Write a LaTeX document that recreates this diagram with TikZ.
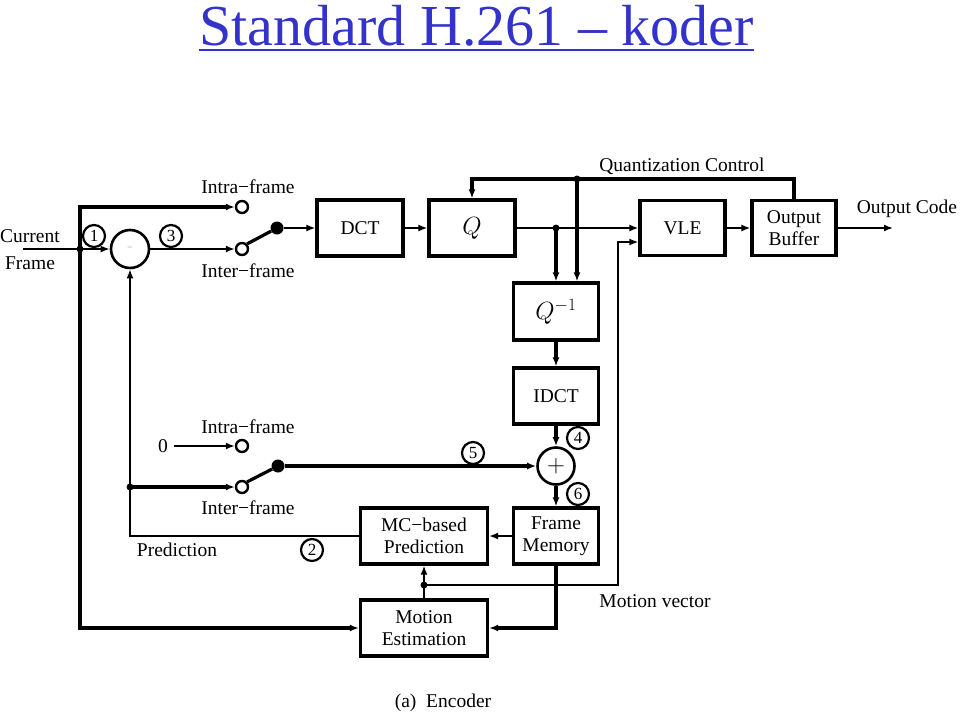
\documentclass[tikz,border=0pt]{standalone}
\usepackage{fontspec}
\setmainfont{Liberation Serif}
\usetikzlibrary{arrows.meta,calc}
\definecolor{titleblue}{RGB}{51,51,204}
\begin{document}
\begin{tikzpicture}[x=1pt,y=-1pt,
  lbl/.style={font=\fontsize{19.5}{22}\selectfont, inner sep=0pt},
  blk/.style={draw, line width=3.2pt, minimum width=#1, minimum height=56pt, inner sep=0pt, align=center, font=\fontsize{19.5}{21.5}\selectfont},
  blk/.default=86pt,
  mth/.style={font=\fontsize{24}{24}\selectfont},
  ln/.style={line width=1.6pt},
  lnb/.style={line width=3.2pt},
  arr/.style={-{Latex[length=9pt,width=7pt]}},
  contact/.style={circle, draw, line width=2.4pt, fill=white, minimum size=12pt, inner sep=0pt},
  pivot/.style={circle, fill=black, minimum size=13pt, inner sep=0pt},
  jdot/.style={circle, fill=black, minimum size=7pt, inner sep=0pt},
  num/.style={circle, draw, line width=2.2pt, minimum size=22pt, inner sep=0pt, font=\fontsize{17}{17}\selectfont},
  summ/.style={circle, draw, line width=2.6pt, minimum size=#1, inner sep=0pt}
]
\useasboundingbox (0,0) rectangle (960,718);

% title
\node[font=\fontsize{58}{60}\selectfont, text=titleblue, anchor=base, inner sep=0pt] (title) at (476.5,45) {Standard H.261 -- koder};
\draw[titleblue, line width=2.5pt] ($(title.base west)+(0,5)$) -- ($(title.base east)+(0,5)$);

% blocks
\node[blk] (dct) at (360,228) {DCT};
\node[blk, mth] (q) at (472,228) {$Q$};
\node[blk=85pt, minimum height=57pt, mth] (qinv) at (556,311.5) {$Q^{-1}$};
\node[blk=85pt] (idct) at (556,396) {IDCT};
\node[blk=85pt] (fm) at (556,536) {Frame\\Memory};
\node[blk=127pt] (mc) at (424,536) {MC−based\\Prediction};
\node[blk=127pt] (me) at (424,628) {Motion\\Estimation};
\node[blk=85pt, minimum height=55pt] (vle) at (682.5,228) {VLE};
\node[blk=84pt, minimum height=55pt] (ob) at (794,228) {Output\\Buffer};

% summing junctions
\node[summ=38pt] (sub) at (130,249) {\color{gray}\fontsize{9}{9}\selectfont −};
\node[summ=37pt] (add) at (556,466) {\fontsize{30}{30}\selectfont $+$};

% switch contacts
\node[contact] (c1) at (242,207) {};
\node[contact] (c2) at (242,249) {};
\node[pivot] (p1) at (277,228) {};
\node[contact] (c3) at (242,446) {};
\node[contact] (c4) at (242,487) {};
\node[pivot] (p2) at (278,466) {};

% coordinates
\coordinate (inL) at (23,249);
\coordinate (jin) at (80,249);
\coordinate (jp) at (130,487);
\coordinate (j1) at (556,228);
\coordinate (j2) at (577,179);
\coordinate (jm) at (424,585);
\coordinate (mvc) at (618,585);
\coordinate (oc) at (893,228);

% labels
\node[lbl] (cur) at (30,236) {Current};
\node[lbl] (frm) at (30,263) {Frame};
\node[lbl] (intra1) at (248,187) {Intra−frame};
\node[lbl] (inter1) at (248,271) {Inter−frame};
\node[lbl] (qctl) at (682,166) {Quantization Control};
\node[lbl] (ocode) at (907,209) {Output Code};
\node[lbl] (intra2) at (248,427) {Intra−frame};
\node[lbl] (inter2) at (248,508) {Inter−frame};
\node[lbl, inner sep=6pt] (zero) at (163,446) {0};
\node[lbl] (pred) at (177,550) {Prediction};
\node[lbl] (mvec) at (655,601) {Motion vector};
\node[lbl] (enc) at (443,703) {(a)\ \ Encoder};

% circled numbers
\node[num] (n1) at (94,236) {1};
\node[num] (n3) at (171,236) {3};
\node[num] (n5) at (473,453) {5};
\node[num] (n4) at (578,438) {4};
\node[num] (n6) at (578,494) {6};
\node[num] (n2) at (312,550) {2};

% upper switch
\draw[ln,arr] (inL) -- (sub);
\draw[lnb,arr] (jin) |- (c1);
\draw[lnb,arr] (jin) |- (me.west);
\draw[ln,arr] (sub) -- (c2);
\draw[lnb] (c2.north east) -- (p1);
\draw[ln,arr] (p1) -- (dct);

% forward path
\draw[ln,arr] (dct) -- (q);
\draw[ln,arr] (q) -- (vle);
\draw[lnb,arr] (j1) -- (j1 |- qinv.north);
\draw[lnb,arr] (ob.north) |- (j2) -| (q.north);
\draw[lnb,arr] (j2) -- (j2 |- qinv.north);
\draw[lnb,arr] (qinv) -- (idct);
\draw[lnb,arr] (idct) -- (add);
\draw[lnb,arr] (add) -- (fm);
\draw[ln,arr] (fm) -- (mc);
\draw[lnb,arr] (fm.south) |- (me.east);
\draw[ln,arr] (me) -- (mc);
\draw[ln,arr] (jm) -- (mvc) |- ($(vle.west)+(0,14)$);
\draw[ln,arr] (vle) -- (ob);
\draw[ln,arr] (ob) -- (oc);

% prediction feedback and lower switch
\draw[ln,arr] (mc.west) -| (sub.south);
\draw[ln,arr] (zero) -- (c3);
\draw[lnb,arr] (jp) -- (c4);
\draw[lnb] (c4.north east) -- (p2);
\draw[lnb,arr] (p2) -- (add);

% junction dots
\node[jdot] at (jin) {};
\node[jdot] at (jp) {};
\node[jdot] at (j1) {};
\node[jdot] at (j2) {};
\node[jdot] at (jm) {};
\end{tikzpicture}
\end{document}
